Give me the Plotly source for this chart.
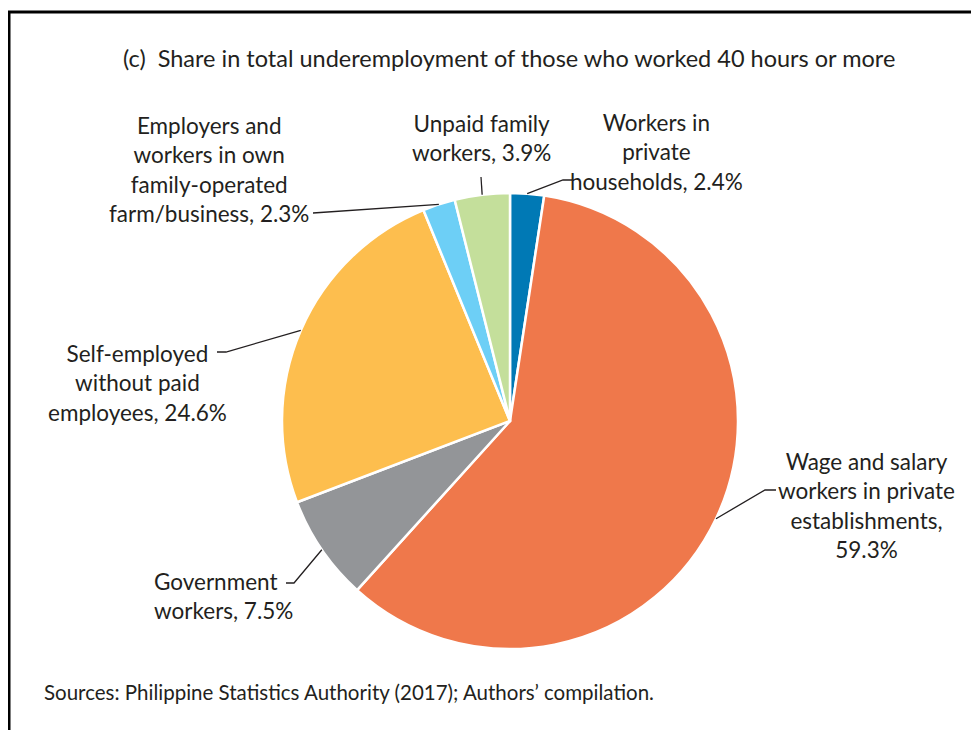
import math
import plotly.graph_objects as go

# ---- data ----
categories = [
    "Workers in private households",
    "Wage and salary workers in private establishments",
    "Government workers",
    "Self-employed without paid employees",
    "Employers and workers in own family-operated farm/business",
    "Unpaid family workers",
]
shares = [2.4, 59.3, 7.5, 24.6, 2.3, 3.9]
label_texts = [
    "Workers in<br>private<br>households, 2.4%",
    "Wage and salary<br>workers in private<br>establishments,<br>59.3%",
    "Government<br>workers, 7.5%",
    "Self-employed<br>without paid<br>employees, 24.6%",
    "Employers and<br>workers in own<br>family-operated<br>farm/business, 2.3%",
    "Unpaid family<br>workers, 3.9%",
]
colors = ["#0079B5", "#EF784B", "#939598", "#FDBE4E", "#6DCFF6", "#C4DF9B"]
title_text = "(c)  Share in total underemployment of those who worked 40 hours or more"
source_text = "Sources: Philippine Statistics Authority (2017); Authors\u2019 compilation."

# ---- layout geometry (screen pixels) ----
OFF = 8  # page body margin offset
W, H = 979 - OFF, 730 - OFF
CX, CY, R = 510, 421, 228
FONT = "Lato"
TXT = "#231F20"


def px(x):
    return (x - OFF) / W


def py(y):
    return 1 - (y - OFF) / H


fig = go.Figure(
    go.Pie(
        labels=categories,
        values=shares,
        sort=False,
        direction="clockwise",
        rotation=0,
        marker=dict(colors=colors, line=dict(color="white", width=2.5)),
        textinfo="none",
        hoverinfo="label+value",
        showlegend=False,
        domain=dict(x=[px(CX - R), px(CX + R)], y=[py(CY + R), py(CY - R)]),
    )
)

# label block placement: (x, block center y, xanchor, align)
label_pos = [
    (656, 152, "center", "center"),
    (866, 505, "center", "center"),
    (152, 596, "left", "left"),
    (137, 383, "center", "center"),
    (209, 169.5, "center", "center"),
    (481, 137.5, "center", "center"),
]
leader_pts = [
    [(563, 180), (572, 180)],
    [(765, 490), (776, 490)],
    [(294, 583), (286, 583)],
    [(226, 352), (217, 352)],
    [(313, 213)],
    [(481, 177)],
]

annotations = []
shapes = []
total = sum(shares)
cum = 0.0
for i, v in enumerate(shares):
    frac = (cum + v / 2) / total
    cum += v
    ang = 2 * math.pi * frac
    sx = CX + R * math.sin(ang)
    sy = CY - R * math.cos(ang)
    pts = [(sx, sy)] + leader_pts[i]
    path = "M " + " L ".join(f"{px(x)},{py(y)}" for x, y in pts)
    shapes.append(dict(type="path", xref="paper", yref="paper", path=path,
                       line=dict(color=TXT, width=1.3)))
    lx, ly, anc, al = label_pos[i]
    annotations.append(dict(
        x=px(lx), y=py(ly), xref="paper", yref="paper",
        text=label_texts[i], showarrow=False, xanchor=anc, yanchor="middle",
        align=al, font=dict(family=FONT, size=22.5, color=TXT),
    ))

annotations.append(dict(
    x=px(509), y=py(58), xref="paper", yref="paper", text=title_text,
    showarrow=False, xanchor="center", yanchor="middle",
    font=dict(family=FONT, size=23.5, color=TXT),
))
annotations.append(dict(
    x=px(42), y=py(692), xref="paper", yref="paper", text=source_text,
    showarrow=False, xanchor="left", yanchor="middle",
    font=dict(family=FONT, size=20.5, color=TXT),
))

# frame (left and top edges)
shapes.append(dict(type="path", xref="paper", yref="paper",
                   path=f"M {px(9)},0 L {px(9)},{py(12)} L 1,{py(12)}",
                   line=dict(color="black", width=3)))

fig.update_layout(
    width=W, height=H,
    margin=dict(l=0, r=0, t=0, b=0),
    paper_bgcolor="white",
    plot_bgcolor="white",
    annotations=annotations,
    shapes=shapes,
)

fig.write_html("out.html")
